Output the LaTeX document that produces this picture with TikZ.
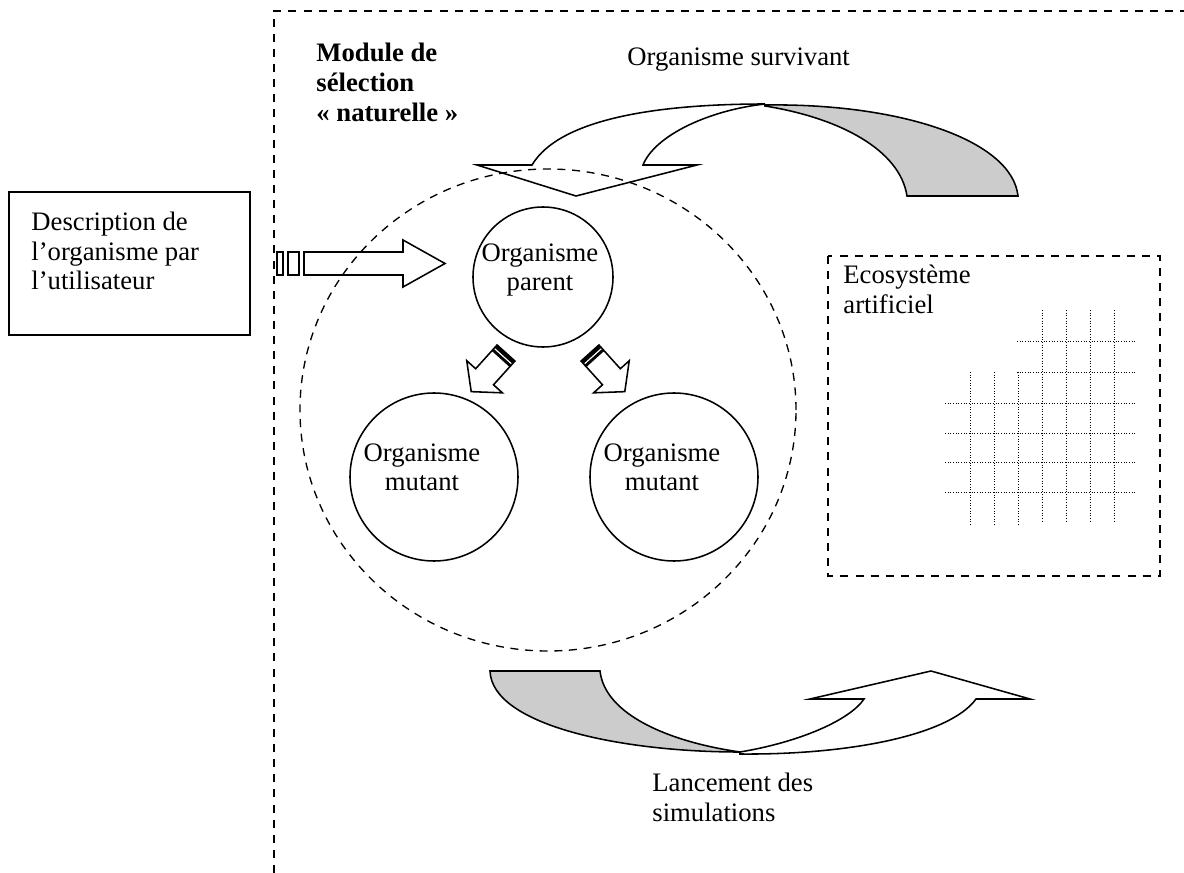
\documentclass[tikz,border=0pt]{standalone}
\usepackage{fontspec}
\setmainfont{Liberation Serif}
\usepackage{tikz}

\definecolor{backshade}{gray}{0.8}

% striped block arrow along local x: length, head length, shaft half width, head half width, stripe unit
\newcommand{\stripedarrow}[5]{%
  \draw[shapeline, fill=white] (0,-#3) rectangle (#5,#3);
  \draw[shapeline, fill=white] ({1.8*#5},-#3) rectangle ({3.7*#5},#3);
  \draw[shapeline, fill=white] ({4.5*#5},-#3) -- ({#1-#2},-#3) -- ({#1-#2},-#4) -- (#1,0)
    -- ({#1-#2},#4) -- ({#1-#2},#3) -- ({4.5*#5},#3) -- cycle;
}

\begin{document}
\begin{tikzpicture}[x=0.45pt,y=-0.45pt,
  every node/.style={inner sep=0pt, font=\fontsize{12}{13.2}\selectfont},
  frameline/.style={line width=0.9pt, dash pattern=on 3.6pt off 3.2pt},
  ringline/.style={line width=0.6pt, dash pattern=on 3.6pt off 3pt},
  shapeline/.style={line width=0.7pt, line join=miter},
  orgcircle/.style={draw, circle, line width=0.7pt, minimum size=#1},
  griddots/.style={line width=0.45pt, dash pattern=on 0.45pt off 0.75pt},
  boxtext/.style={align=left, anchor=north west}]
\useasboundingbox (0,0) rectangle (1184,873);

% frame of the selection module
\draw[frameline] (274,873) -- (274,11) -- (1184,11);

% user description
\draw[line width=0.8pt] (9,192) rectangle (250,335);
\node[boxtext] (desc) at (31,212) {Description de\\l’organisme par\\l’utilisateur};
\node[boxtext, font=\fontsize{12}{13.5}\selectfont\bfseries] (module) at (316,43)
  {Module de\\sélection\\«~naturelle~»};
\node[anchor=base west] (survivant) at (627,66) {Organisme survivant};

% organisms
\node[orgcircle=63pt] (parent) at (543,277) {};
\node[orgcircle=75.6pt] (mutantL) at (434,477) {};
\node[orgcircle=75.6pt] (mutantR) at (674,477) {};
\node[align=center] (parentlbl) at (540,270) {Organisme\\parent};
\node[align=center] (mutantLlbl) at (422,467) {Organisme\\mutant};
\node[align=center] (mutantRlbl) at (662,467) {Organisme\\mutant};

% arrows
\begin{scope}[shift={(277,263.5)}]
  \stripedarrow{168}{42}{11.5}{23.5}{6}
\end{scope}
\begin{scope}[shift={(506,353)}, rotate=228]
  \stripedarrow{52}{20}{12}{24}{1.6}
\end{scope}
\begin{scope}[shift={(590,353)}, rotate=312]
  \stripedarrow{52}{20}{12}{24}{1.6}
\end{scope}

% survivor loops back
\draw[shapeline, fill=backshade] (765,105) .. controls (900,103) and (1012,140) .. (1018,196)
  -- (907,196) .. controls (900,150) and (840,118) .. (765,106) -- cycle;
\draw[shapeline, fill=white] (532,165) .. controls (560,118) and (660,104) .. (765,104)
  .. controls (710,110) and (655,135) .. (643,165) -- (697,165) -- (576,196) -- (477,165) -- cycle;

% launching simulations
\draw[shapeline, fill=backshade] (490,671) -- (600,671) .. controls (605,715) and (670,742) .. (740,752)
  .. controls (620,752) and (492,725) .. (490,671) -- cycle;
\draw[shapeline, fill=white] (740,752) .. controls (800,742) and (850,720) .. (864,699)
  -- (810,699) -- (931,671) -- (1030,699) -- (976,699)
  .. controls (950,735) and (850,755) .. (740,754) -- cycle;
\node[boxtext] (lancement) at (652,773) {Lancement des\\simulations};

% artificial ecosystem
\draw[frameline] (828,256) rectangle (1160,576);
\node[boxtext] (eco) at (843,265) {Ecosystème\\artificiel};
\foreach \x in {1042,1066,1090,1114}
  \draw[griddots] (\x,310) -- (\x,523);
\foreach \x in {970,994,1018}
  \draw[griddots] (\x,372) -- (\x,525);
\foreach \y in {341,372}
  \draw[griddots] (1017,\y) -- (1135,\y);
\foreach \y in {403,433,462,492}
  \draw[griddots] (945,\y) -- (1135,\y);

% selection ring
\draw[ringline] (548,410) ellipse [x radius=111.6pt, y radius=108.45pt];
\end{tikzpicture}
\end{document}
